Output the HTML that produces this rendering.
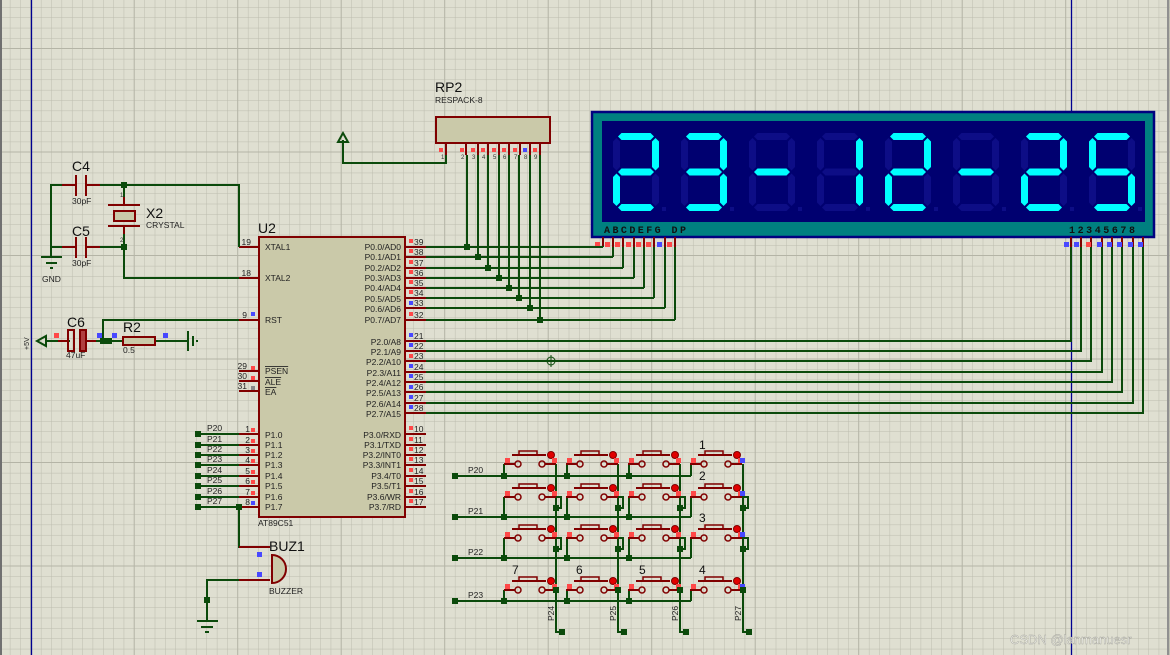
<!DOCTYPE html>
<html><head><meta charset="utf-8"><style>
html,body{margin:0;padding:0;background:#dfdfd1;}
svg{display:block;font-family:"Liberation Sans",sans-serif;}
.w{stroke:#0b4a0b;stroke-width:2;fill:none;}
.p{stroke:#800000;stroke-width:2;fill:none;}
.t{font-size:8.5px;fill:#222;}
.L{font-size:14px;fill:#111;}
.j{fill:#0b4a0b;}
.r{fill:#ff4848;}
.b{fill:#4848ff;}
</style></head><body>
<svg width="1170" height="655" viewBox="0 0 1170 655" xmlns="http://www.w3.org/2000/svg">
<defs>
<pattern id="gm" patternUnits="userSpaceOnUse" width="10.35" height="10.35" x="0" y="-2.75">
<path d="M10.35 0V10.35M0 10.35H10.35" stroke="#bcbcae" stroke-width="1" fill="none"/></pattern>
<pattern id="gM" patternUnits="userSpaceOnUse" width="103.5" height="103.5" x="31.2" y="-54.5">
<path d="M103.5 0V103.5M0 103.5H103.5" stroke="#b4b4a6" stroke-width="2" fill="none"/></pattern>
<polygon id="sa" points="5,3.5 8.5,0 37.5,0 41,3.5 37.5,7 8.5,7"/>
<polygon id="sg" points="5,39 8.5,35.5 37.5,35.5 41,39 37.5,42.5 8.5,42.5"/>
<polygon id="sd" points="5,74.5 8.5,71 37.5,71 41,74.5 37.5,78 8.5,78"/>
<polygon id="sf" points="3.5,5 7,8.5 7,34 3.5,37.5 0,34 0,8.5"/>
<polygon id="sb" points="42.5,5 46,8.5 46,34 42.5,37.5 39,34 39,8.5"/>
<polygon id="se" points="3.5,40.5 7,44 7,69.5 3.5,73 0,69.5 0,44"/>
<polygon id="sc" points="42.5,40.5 46,44 46,69.5 42.5,73 39,69.5 39,44"/>
<g id="dim" fill="#0d0d86"><use href="#sa"/><use href="#sb"/><use href="#sc"/><use href="#sd"/><use href="#se"/><use href="#sf"/><use href="#sg"/><rect x="49" y="74" width="4" height="4"/></g>
<g id="btn">
<rect x="519" y="451" width="18" height="4" fill="none" stroke="#800000" stroke-width="1.5"/>
<line x1="512" y1="455" x2="546" y2="455" class="p" stroke-width="1.5"/>
<circle cx="518" cy="464" r="3" fill="none" stroke="#800000" stroke-width="1.5"/>
<circle cx="542" cy="464" r="3" fill="none" stroke="#800000" stroke-width="1.5"/>
<circle cx="551" cy="455" r="3.5" fill="#e00000" stroke="#800000" stroke-width="1"/>
<line x1="515" y1="464" x2="504" y2="464" class="p" stroke-width="1.5"/>
<line x1="545" y1="464" x2="556" y2="464" class="p" stroke-width="1.5"/>
<rect x="505" y="458" width="5" height="5" class="r"/>
<rect x="552" y="458" width="5" height="5" class="r"/>
</g>
</defs>
<rect width="1170" height="655" fill="#dfdfd1"/>
<rect width="1170" height="655" fill="url(#gm)"/>
<rect width="1170" height="655" fill="url(#gM)"/>
<line x1="1" y1="0" x2="1" y2="655" stroke="#707070" stroke-width="2"/>
<line x1="1168" y1="0" x2="1168" y2="655" stroke="#909090" stroke-width="2"/>
<line x1="31.5" y1="0" x2="31.5" y2="655" stroke="#000090" stroke-width="1.3"/>
<line x1="1071.5" y1="0" x2="1071.5" y2="655" stroke="#000090" stroke-width="1.3"/>

<!-- Display -->
<rect x="592" y="112" width="562" height="125" fill="#008080" stroke="#000080" stroke-width="2.5"/>
<rect x="602" y="121" width="543" height="101" fill="#000070"/>
<g transform="translate(613,133)"><use href="#dim"/><g fill="#00ffff"><use href="#sa"/><use href="#sb"/><use href="#sg"/><use href="#se"/><use href="#sd"/></g></g>
<g transform="translate(681,133)"><use href="#dim"/><g fill="#00ffff"><use href="#sa"/><use href="#sb"/><use href="#sg"/><use href="#sc"/><use href="#sd"/></g></g>
<g transform="translate(749,133)"><use href="#dim"/><g fill="#00ffff"><use href="#sg"/></g></g>
<g transform="translate(817,133)"><use href="#dim"/><g fill="#00ffff"><use href="#sb"/><use href="#sc"/></g></g>
<g transform="translate(885,133)"><use href="#dim"/><g fill="#00ffff"><use href="#sa"/><use href="#sb"/><use href="#sg"/><use href="#se"/><use href="#sd"/></g></g>
<g transform="translate(953,133)"><use href="#dim"/><g fill="#00ffff"><use href="#sg"/></g></g>
<g transform="translate(1021,133)"><use href="#dim"/><g fill="#00ffff"><use href="#sa"/><use href="#sb"/><use href="#sg"/><use href="#se"/><use href="#sd"/></g></g>
<g transform="translate(1089,133)"><use href="#dim"/><g fill="#00ffff"><use href="#sa"/><use href="#sf"/><use href="#sg"/><use href="#sc"/><use href="#sd"/></g></g>
<text x="604" y="233" font-size="10" font-weight="bold" fill="#111" font-family="Liberation Mono,monospace" textLength="82">ABCDEFG DP</text>
<text x="1069" y="233" font-size="10" font-weight="bold" fill="#111" font-family="Liberation Mono,monospace" textLength="66">12345678</text>
<g class="p">
<path d="M603 237V247M613 237V247M623 237V247M634 237V247M644 237V247M654 237V247M665 237V247M675 237V247"/>
<path d="M1071 237V247M1081 237V247M1091 237V247M1102 237V247M1112 237V247M1122 237V247M1133 237V247M1143 237V247"/>
</g>
<g class="r"><rect x="595" y="242" width="5" height="5"/><rect x="605" y="242" width="5" height="5"/><rect x="615" y="242" width="5" height="5"/><rect x="626" y="242" width="5" height="5"/><rect x="636" y="242" width="5" height="5"/><rect x="646" y="242" width="5" height="5"/><rect x="667" y="242" width="5" height="5"/><rect x="1086" y="242" width="5" height="5"/></g>
<g class="b"><rect x="657" y="242" width="5" height="5"/><rect x="1064" y="242" width="5" height="5"/><rect x="1074" y="242" width="5" height="5"/><rect x="1097" y="242" width="5" height="5"/><rect x="1107" y="242" width="5" height="5"/><rect x="1117" y="242" width="5" height="5"/><rect x="1128" y="242" width="5" height="5"/><rect x="1138" y="242" width="5" height="5"/></g>

<!-- RP2 -->
<text x="435" y="92" class="L" font-size="13">RP2</text>
<text x="435" y="103" class="t" font-size="8">RESPACK-8</text>
<rect x="436" y="117" width="114" height="26" fill="#cac9a9" stroke="#800000" stroke-width="2"/>
<path class="p" d="M446 143V155M466 143V155M478 143V155M488 143V155M499 143V155M509 143V155M520 143V155M530 143V155M540 143V155"/>
<g class="r"><rect x="439" y="148" width="4" height="4"/><rect x="460" y="148" width="4" height="4"/><rect x="471" y="148" width="4" height="4"/><rect x="481" y="148" width="4" height="4"/><rect x="492" y="148" width="4" height="4"/><rect x="502" y="148" width="4" height="4"/><rect x="513" y="148" width="4" height="4"/><rect x="533" y="148" width="4" height="4"/></g>
<rect x="523" y="148" width="4" height="4" class="b"/>
<g font-size="6" fill="#333"><text x="441" y="159">1</text><text x="461" y="159">2</text><text x="472" y="159">3</text><text x="482" y="159">4</text><text x="493" y="159">5</text><text x="503" y="159">6</text><text x="514" y="159">7</text><text x="524" y="159">8</text><text x="534" y="159">9</text></g>
<path class="w" d="M446 155V163H343V140"/>
<polygon points="343,133 338,142 348,142" fill="none" stroke="#0b4a0b" stroke-width="2"/>

<!-- U2 -->
<text x="258" y="233" class="L">U2</text>
<rect x="259" y="237" width="146" height="280" fill="#cac9a9" stroke="#800000" stroke-width="2"/>
<text x="258" y="526" class="t">AT89C51</text>
<g class="p">
<path d="M239 247H259M239 278H259M239 320H259M239 371H259M239 381H259M239 391H259"/>
<path d="M239 434H259M239 445H259M239 455H259M239 465H259M239 476H259M239 486H259M239 497H259M239 507H259"/>
<path d="M405 247H426M405 257H426M405 268H426M405 278H426M405 288H426M405 298H426M405 308H426M405 320H426"/>
<path d="M405 341H426M405 351H426M405 361H426M405 372H426M405 382H426M405 392H426M405 403H426M405 413H426"/>
<path d="M405 434H426M405 445H426M405 455H426M405 465H426M405 476H426M405 486H426M405 497H426M405 507H426"/>
</g>
<g class="t">
<text x="265" y="250">XTAL1</text><text x="265" y="281">XTAL2</text><text x="265" y="323">RST</text>
<text x="265" y="374" text-decoration="overline">PSEN</text><text x="265" y="385" text-decoration="overline">ALE</text><text x="265" y="395" text-decoration="overline">EA</text>
<text x="265" y="438">P1.0</text><text x="265" y="448">P1.1</text><text x="265" y="458">P1.2</text><text x="265" y="468">P1.3</text><text x="265" y="479">P1.4</text><text x="265" y="489">P1.5</text><text x="265" y="500">P1.6</text><text x="265" y="510">P1.7</text>
</g>
<g class="t" text-anchor="end">
<text x="401" y="250">P0.0/AD0</text><text x="401" y="260">P0.1/AD1</text><text x="401" y="271">P0.2/AD2</text><text x="401" y="281">P0.3/AD3</text><text x="401" y="291">P0.4/AD4</text><text x="401" y="302">P0.5/AD5</text><text x="401" y="312">P0.6/AD6</text><text x="401" y="323">P0.7/AD7</text>
<text x="401" y="345">P2.0/A8</text><text x="401" y="355">P2.1/A9</text><text x="401" y="365">P2.2/A10</text><text x="401" y="376">P2.3/A11</text><text x="401" y="386">P2.4/A12</text><text x="401" y="396">P2.5/A13</text><text x="401" y="407">P2.6/A14</text><text x="401" y="417">P2.7/A15</text>
<text x="401" y="438">P3.0/RXD</text><text x="401" y="448">P3.1/TXD</text><text x="401" y="458">P3.2/INT0</text><text x="401" y="468">P3.3/INT1</text><text x="401" y="479">P3.4/T0</text><text x="401" y="489">P3.5/T1</text><text x="401" y="500">P3.6/WR</text><text x="401" y="510">P3.7/RD</text>
<text x="251" y="245">19</text><text x="251" y="276">18</text><text x="247" y="318">9</text><text x="247" y="369">29</text><text x="247" y="379">30</text><text x="247" y="389">31</text>
<text x="250" y="432">1</text><text x="250" y="443">2</text><text x="250" y="453">3</text><text x="250" y="463">4</text><text x="250" y="474">5</text><text x="250" y="484">6</text><text x="250" y="495">7</text><text x="250" y="505">8</text>
</g>
<g class="t">
<text x="414" y="245">39</text><text x="414" y="255">38</text><text x="414" y="266">37</text><text x="414" y="276">36</text><text x="414" y="286">35</text><text x="414" y="296">34</text><text x="414" y="306">33</text><text x="414" y="318">32</text>
<text x="414" y="339">21</text><text x="414" y="349">22</text><text x="414" y="359">23</text><text x="414" y="370">24</text><text x="414" y="380">25</text><text x="414" y="390">26</text><text x="414" y="401">27</text><text x="414" y="411">28</text>
<text x="414" y="432">10</text><text x="414" y="443">11</text><text x="414" y="453">12</text><text x="414" y="463">13</text><text x="414" y="474">14</text><text x="414" y="484">15</text><text x="414" y="495">16</text><text x="414" y="505">17</text>
</g>
<g class="r">
<rect x="409" y="239" width="4" height="4"/><rect x="409" y="249" width="4" height="4"/><rect x="409" y="260" width="4" height="4"/><rect x="409" y="270" width="4" height="4"/><rect x="409" y="280" width="4" height="4"/><rect x="409" y="290" width="4" height="4"/><rect x="409" y="312" width="4" height="4"/>
<rect x="409" y="354" width="4" height="4"/>
<rect x="409" y="426" width="4" height="4"/><rect x="409" y="437" width="4" height="4"/><rect x="409" y="447" width="4" height="4"/><rect x="409" y="457" width="4" height="4"/><rect x="409" y="468" width="4" height="4"/><rect x="409" y="478" width="4" height="4"/><rect x="409" y="489" width="4" height="4"/><rect x="409" y="499" width="4" height="4"/>
<rect x="251" y="366" width="4" height="4"/><rect x="251" y="376" width="4" height="4"/>
<rect x="251" y="428" width="4" height="4"/><rect x="251" y="439" width="4" height="4"/><rect x="251" y="449" width="4" height="4"/><rect x="251" y="459" width="4" height="4"/><rect x="251" y="470" width="4" height="4"/><rect x="251" y="480" width="4" height="4"/><rect x="251" y="491" width="4" height="4"/>
</g>
<g class="b"><rect x="409" y="301" width="4" height="4"/><rect x="409" y="333" width="4" height="4"/><rect x="409" y="343" width="4" height="4"/><rect x="409" y="364" width="4" height="4"/><rect x="409" y="374" width="4" height="4"/><rect x="409" y="385" width="4" height="4"/><rect x="409" y="395" width="4" height="4"/><rect x="409" y="405" width="4" height="4"/><rect x="251" y="312" width="4" height="4"/><rect x="251" y="501" width="4" height="4"/></g>
<rect x="251" y="386" width="4" height="4" fill="#888"/>

<!-- P0 wires -->
<g class="w">
<path d="M426 247H603M426 257H613M426 268H623M426 278H634M426 288H644M426 298H654M426 308H665M426 320H675"/>
<path d="M603 247V246M613 257V247M623 268V247M634 278V247M644 288V247M654 298V247M665 308V247M675 320V247"/>
<path d="M467 155V247M478 155V257M488 155V268M499 155V278M509 155V288M519 155V298M530 155V308M540 155V320"/>
<path d="M426 341H1071V247M426 351H1081V247M426 361H1091V247M426 372H1102V247M426 382H1112V247M426 392H1122V247M426 403H1133V247M426 413H1143V247"/>
</g>
<g class="j"><rect x="464" y="244" width="6" height="6"/><rect x="475" y="254" width="6" height="6"/><rect x="485" y="265" width="6" height="6"/><rect x="496" y="275" width="6" height="6"/><rect x="506" y="285" width="6" height="6"/><rect x="516" y="295" width="6" height="6"/><rect x="527" y="305" width="6" height="6"/><rect x="537" y="317" width="6" height="6"/></g>
<circle cx="551" cy="361" r="4" fill="none" stroke="#0b4a0b" stroke-width="1"/><path d="M545 361H557M551 355V367" stroke="#0b4a0b" stroke-width="1"/>

<!-- crystal section -->
<g class="w">
<path d="M51 257V185H73M85 185H239V247M51 247H73M85 247H124M124 185V205M124 226V278H239"/>
<path d="M47 341H70M87 341H123M155 341H188M103 341V320H239"/>
<path d="M198 434H239M198 445H239M198 455H239M198 465H239M198 476H239M198 486H239M198 497H239M198 507H239M239 507V547H259M270 580H207V621"/>
</g>
<g class="p">
<path d="M76 175V196M86 175V196M76 237V258M86 237V258M62 185H76M86 185H100M62 247H76M86 247H100M108 205H140M108 226H140M124 205V197M124 226V234"/>
<path d="M239 547H270M239 580H270"/>
</g>
<rect x="114" y="211" width="21" height="10" fill="#cac9a9" stroke="#800000" stroke-width="2"/>
<g class="j"><rect x="121" y="182" width="6" height="6"/><rect x="121" y="244" width="6" height="6"/><rect x="100" y="338" width="6" height="6"/><rect x="106" y="338" width="6" height="6"/><rect x="236" y="504" width="6" height="6"/><rect x="204" y="597" width="6" height="6"/>
<rect x="195" y="431" width="6" height="6"/><rect x="195" y="442" width="6" height="6"/><rect x="195" y="452" width="6" height="6"/><rect x="195" y="462" width="6" height="6"/><rect x="195" y="473" width="6" height="6"/><rect x="195" y="483" width="6" height="6"/><rect x="195" y="494" width="6" height="6"/><rect x="195" y="504" width="6" height="6"/></g>
<path d="M41 257H62M46 263H57M50 268H53" stroke="#0b4a0b" stroke-width="2"/>
<text x="42" y="282" class="t">GND</text>
<text x="72" y="171" class="L">C4</text><text x="72" y="204" class="t">30pF</text>
<text x="72" y="236" class="L">C5</text><text x="72" y="266" class="t">30pF</text>
<text x="146" y="218" class="L">X2</text><text x="146" y="228" class="t">CRYSTAL</text>
<text x="120" y="197" font-size="6" fill="#333">1</text><text x="120" y="242" font-size="6" fill="#333">2</text>

<!-- RST network -->
<polygon points="37,341 46,336 46,346" fill="none" stroke="#0b4a0b" stroke-width="2"/>
<text transform="translate(29,350) rotate(-90)" font-size="7" fill="#222">+5V</text>
<rect x="68" y="330" width="6" height="21" fill="none" stroke="#800000" stroke-width="2"/>
<rect x="80" y="330" width="6" height="21" fill="#b04040" stroke="#800000" stroke-width="2"/>
<path class="p" d="M58 341H68M86 341H96"/>
<rect x="123" y="337" width="32" height="8" fill="#cac9a9" stroke="#800000" stroke-width="2"/>
<path d="M188 331V351M193 336V346M197 340V342" stroke="#0b4a0b" stroke-width="2"/>
<rect x="54" y="333" width="5" height="5" class="r"/><rect x="97" y="333" width="5" height="5" class="b"/><rect x="112" y="333" width="5" height="5" class="b"/><rect x="163" y="333" width="5" height="5" class="b"/>
<text x="67" y="327" class="L">C6</text><text x="66" y="358" class="t">47uF</text>
<text x="123" y="332" class="L">R2</text><text x="123" y="353" class="t">0.5</text>

<g class="t"><text x="207" y="431">P20</text><text x="207" y="442">P21</text><text x="207" y="452">P22</text><text x="207" y="462">P23</text><text x="207" y="473">P24</text><text x="207" y="483">P25</text><text x="207" y="494">P26</text><text x="207" y="504">P27</text></g>

<!-- buzzer -->
<path d="M270 555A14 14 0 0 1 270 583Z" fill="#cac9a9" stroke="#800000" stroke-width="2" transform="translate(2,0)"/>
<rect x="257" y="552" width="5" height="5" class="b"/><rect x="257" y="572" width="5" height="5" class="b"/>
<text x="269" y="551" class="L">BUZ1</text><text x="269" y="594" class="t">BUZZER</text>
<path d="M197 621H218M201 627H213M205 632H209" stroke="#0b4a0b" stroke-width="2"/>

<!-- keypad -->
<g class="w">
<path d="M455 476H691M455 517H691M455 558H691M455 601H691"/>
<path d="M504 464V476M567 464V476M629 464V476M691 464V476"/>
<path d="M504 497V517M567 497V517M629 497V517M691 497V517"/>
<path d="M504 538V558M567 538V558M629 538V558M691 538V558"/>
<path d="M504 590V601M567 590V601M629 590V601M691 590V601"/>
<path d="M556 464V632H562M618 464V632H624M680 464V632H686M743 464V632H749"/>
<path d="M556 497H561V508H556M618 497H623V508H618M680 497H685V508H680M743 497H748V508H743"/>
<path d="M556 538H561V549H556M618 538H623V549H618M680 538H685V549H680M743 538H748V549H743"/>
</g>
<use href="#btn"/><use href="#btn" x="62"/><use href="#btn" x="124"/><use href="#btn" x="186"/>
<use href="#btn" y="33"/><use href="#btn" x="62" y="33"/><use href="#btn" x="124" y="33"/><use href="#btn" x="186" y="33"/>
<use href="#btn" y="74"/><use href="#btn" x="62" y="74"/><use href="#btn" x="124" y="74"/><use href="#btn" x="186" y="74"/>
<use href="#btn" y="126"/><use href="#btn" x="62" y="126"/><use href="#btn" x="124" y="126"/><use href="#btn" x="186" y="126"/>
<g class="b"><rect x="740" y="458" width="5" height="5"/><rect x="740" y="491" width="5" height="5"/><rect x="740" y="532" width="5" height="5"/><rect x="740" y="584" width="5" height="5"/></g>
<g class="j">
<rect x="452" y="473" width="6" height="6"/><rect x="452" y="514" width="6" height="6"/><rect x="452" y="555" width="6" height="6"/><rect x="452" y="598" width="6" height="6"/>
<rect x="501" y="473" width="6" height="6"/><rect x="564" y="473" width="6" height="6"/><rect x="626" y="473" width="6" height="6"/>
<rect x="501" y="514" width="6" height="6"/><rect x="564" y="514" width="6" height="6"/><rect x="626" y="514" width="6" height="6"/>
<rect x="501" y="555" width="6" height="6"/><rect x="564" y="555" width="6" height="6"/><rect x="626" y="555" width="6" height="6"/>
<rect x="501" y="598" width="6" height="6"/><rect x="564" y="598" width="6" height="6"/><rect x="626" y="598" width="6" height="6"/>
<rect x="553" y="505" width="6" height="6"/><rect x="615" y="505" width="6" height="6"/><rect x="677" y="505" width="6" height="6"/><rect x="740" y="505" width="6" height="6"/>
<rect x="553" y="546" width="6" height="6"/><rect x="615" y="546" width="6" height="6"/><rect x="677" y="546" width="6" height="6"/><rect x="740" y="546" width="6" height="6"/>
<rect x="553" y="587" width="6" height="6"/><rect x="615" y="587" width="6" height="6"/><rect x="677" y="587" width="6" height="6"/><rect x="740" y="587" width="6" height="6"/>
<rect x="559" y="629" width="6" height="6"/><rect x="621" y="629" width="6" height="6"/><rect x="683" y="629" width="6" height="6"/><rect x="746" y="629" width="6" height="6"/>
</g>
<g class="t"><text x="468" y="473">P20</text><text x="468" y="514">P21</text><text x="468" y="555">P22</text><text x="468" y="598">P23</text></g>
<g class="t"><text transform="translate(554,621) rotate(-90)">P24</text><text transform="translate(616,621) rotate(-90)">P25</text><text transform="translate(678,621) rotate(-90)">P26</text><text transform="translate(741,621) rotate(-90)">P27</text></g>
<g font-size="12" fill="#111"><text x="699" y="449">1</text><text x="699" y="480">2</text><text x="699" y="522">3</text><text x="699" y="574">4</text><text x="512" y="574">7</text><text x="576" y="574">6</text><text x="639" y="574">5</text></g>

<text x="1010" y="644" font-size="13" fill="#f4f4ee" stroke="#a0a098" stroke-width="0.4">CSDN @lanmanuesr</text>
</svg>
</body></html>
